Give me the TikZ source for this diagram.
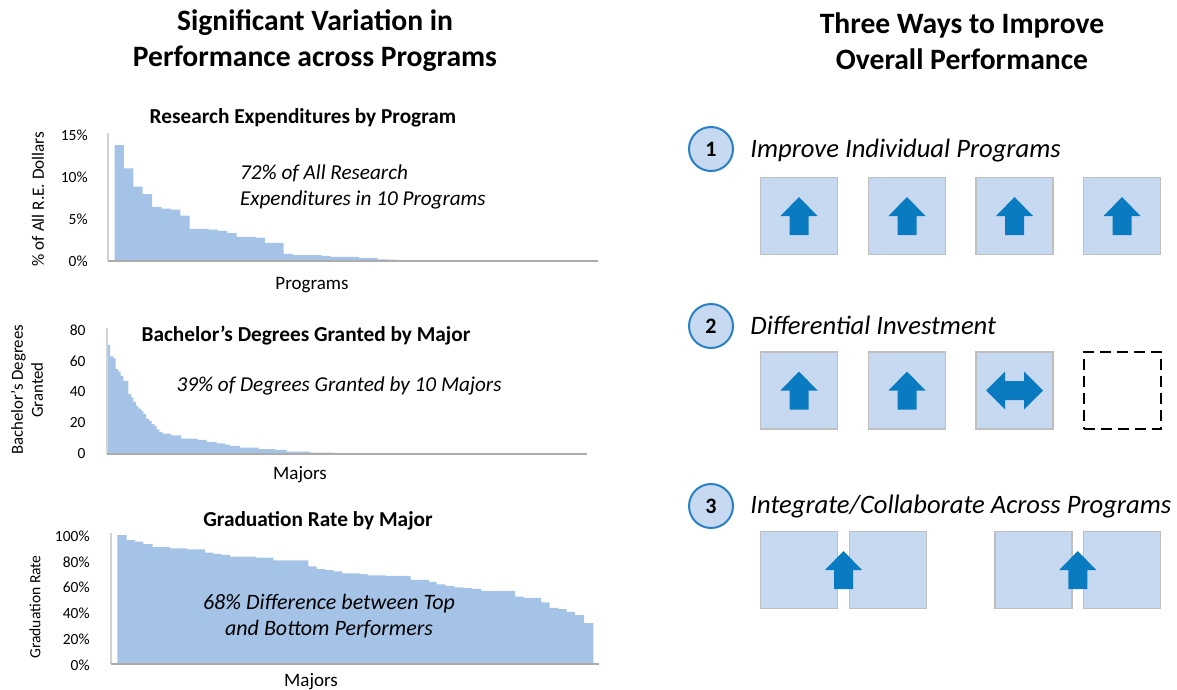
\documentclass[tikz,border=0pt]{standalone}
\usepackage{fontspec}
\setmainfont{Carlito}
\usetikzlibrary{positioning}

\definecolor{barre}{HTML}{A5C3E6}
\definecolor{fondboite}{HTML}{C6D9F0}
\definecolor{bordboite}{HTML}{BFBFBF}
\definecolor{fleche}{HTML}{0B7BC1}
\definecolor{cercle}{HTML}{2A80C4}

\tikzset{titre/.style = {font=\fontsize{14.8}{18}\selectfont\bfseries, align=center},
         stitre/.style = {font=\fontsize{10.65}{12}\selectfont\bfseries},
         comm/.style = {font=\fontsize{10.6}{13}\selectfont\itshape},
         grad/.style = {font=\fontsize{7.75}{9}\selectfont, anchor=east, inner sep=0pt},
         axe/.style = {font=\fontsize{9.5}{11}\selectfont},
         axex/.style = {draw=gray!65, line width=1.2pt},
         axey/.style = {draw=gray!35, line width=1pt},
         boite/.style = {draw=bordboite, fill=fondboite, line width=0.9pt,
                         minimum size=38.5pt, inner sep=0pt},
         vide/.style = {draw=black, line width=1pt, dash pattern=on 5.5pt off 3pt,
                        minimum size=38.5pt, inner sep=0pt},
         num/.style = {circle, draw=cercle, fill=fondboite, line width=1pt,
                       minimum size=22pt, inner sep=0pt,
                       font=\fontsize{11}{13}\selectfont\bfseries},
         voie/.style = {font=\fontsize{13.3}{15}\selectfont\itshape, anchor=base west, inner sep=0pt},
         haut/.pic = {\fill[fleche] (0,-19) -- (18.5,0) -- (9.5,0) -- (9.5,19)
                      -- (-9.5,19) -- (-9.5,0) -- (-18.5,0) -- cycle;},
         double/.pic = {\fill[fleche] (-28.5,0) -- (-9.5,-19) -- (-9.5,-9.5) -- (9.5,-9.5)
                        -- (9.5,-19) -- (28.5,0) -- (9.5,19) -- (9.5,9.5) -- (-9.5,9.5)
                        -- (-9.5,19) -- cycle;}
        }

\begin{document}
\begin{tikzpicture}[x=0.5pt, y=-0.5pt]
\useasboundingbox (0,0) rectangle (1177,690);

% titres
\node[titre] (tg) at (315,41) {Significant Variation in\\Performance across Programs};
\node[titre] (td) at (962,41) {Three Ways to Improve\\Overall Performance};

% graphique 1
\node[stitre] (s1) at (303,118) {Research Expenditures by Program};
\begin{scope}[shift={(0,261)}, yscale=-8.45]
\fill[barre] (114.5,0) \foreach \h [count=\i from 0] in {13.7,10.95,8.8,7.9,6.4,6.2,6.07,5.36,3.8,3.8,
   3.7,3.57,3.3,2.86,2.86,2.78,2.14,2.14,0.83,0.71,0.71,0.71,0.6,0.48,0.48,0.48,0.36,0.36,0.2,0.15,0.1}
   { -- (114.5+9.4*\i,\h) -- (123.9+9.4*\i,\h) } -- (405.9,0) -- cycle;
\end{scope}
\draw[axey] (108,133) -- (108,261);
\draw[axex] (108,261) -- (598,261);
\node[grad] (g15) at (88,135) {15\%};
\node[grad] (g10) at (88,177) {10\%};
\node[grad] (g5) at (88,219) {5\%};
\node[grad] (g0) at (88,261) {0\%};
\node[rotate=90, font=\fontsize{8.6}{10}\selectfont] (y1) at (38,199) {\% of All R.E. Dollars};
\node[axe] (x1) at (312,285) {Programs};
\node[comm, align=left, anchor=west] (c1) at (233,187) {72\% of All Research\\Expenditures in 10 Programs};

% graphique 2
\begin{scope}[shift={(0,454)}, yscale=-1.545]
\fill[barre] (107.3,0) -- plot[const plot] coordinates {(107.3,70.6) (110,63.2) (113.3,61.9)
   (115.7,55) (118.3,53.4) (120.7,50.6) (123.3,47.4) (128.3,38.8) (131,36.6) (133.3,33.8)
   (136,31.2) (138.3,29.4) (141,27.9) (143.3,25.8) (146,22.9) (149,21.4) (151.7,19.3)
   (154.3,18.2) (156.7,16) (159.3,14.3) (162.7,13.2) (171,12.1) (181,9.9) (197.7,9.1)
   (206.7,7.8) (216.7,6.9) (225,6.0) (230,5.2) (240,4.1) (258.3,3.2) (275,2.6) (286.7,1.5)
   (310,0.9) (333.3,0.3) (373.3,0.3)} -- (373.3,0) -- cycle;
\end{scope}
\draw[axey] (107,328) -- (107,454);
\draw[axex] (107,454) -- (587,454);
\node[stitre] (s2) at (306,336) {Bachelor’s Degrees Granted by Major};
\node[grad] (h80) at (86,330) {80};
\node[grad] (h60) at (86,361) {60};
\node[grad] (h40) at (86,392) {40};
\node[grad] (h20) at (86,423) {20};
\node[grad] (h0) at (86,454) {0};
\node[rotate=90, align=center, font=\fontsize{8.4}{10}\selectfont] (y2) at (27,390) {Bachelor’s Degrees\\Granted};
\node[axe] (x2) at (300,475) {Majors};
\node[comm] (c2) at (339,386) {39\% of Degrees Granted by 10 Majors};

% graphique 3
\node[stitre] (s3) at (318,521) {Graduation Rate by Major};
\begin{scope}[shift={(0,664)}, yscale=-1.29]
\fill[barre] (117.3,0) -- plot[const plot] coordinates {(117.3,100) (126.7,96.1) (135,94.8)
   (143.3,93) (152.7,90.6) (170,89.6) (187.3,88.8) (205,86.4) (213.3,85.4) (221.7,84.6)
   (230,83.3) (256,82.5) (273.3,80.4) (308.3,75.7) (316.7,73.6) (325,72.8) (333.3,71.8)
   (342,70.3) (360,69.6) (367.7,68.8) (385.7,68.3) (410.7,65.2) (429,63.6) (436.7,61.8)
   (445.7,60.5) (454.3,59.4) (463.3,58.9) (471.7,58.2) (481,56.6) (515,52.2) (524,51.2)
   (541,47.8) (549.7,43.6) (558.3,42.6) (566.7,40.5) (575,37.9) (584,31.7) (593.3,31.7)}
   -- (593.3,0) -- cycle;
\end{scope}
\draw[axey] (111,533) -- (111,664);
\draw[axex] (111,664) -- (599,664);
\node[grad] (p100) at (90,536) {100\%};
\node[grad] (p80) at (90,562) {80\%};
\node[grad] (p60) at (90,587) {60\%};
\node[grad] (p40) at (90,613) {40\%};
\node[grad] (p20) at (90,639) {20\%};
\node[grad] (p0) at (90,665) {0\%};
\node[rotate=90, font=\fontsize{7.8}{9}\selectfont] (y3) at (35,607) {Graduation Rate};
\node[axe] (x3) at (311,682) {Majors};
\node[comm, align=center, font=\fontsize{11}{13}\selectfont\itshape] (c3) at (329,616) {68\% Difference between Top\\and Bottom Performers};

% voie 1
\node[num] (n1) at (711,149) {1};
\node[voie] (v1) at (750,157) {Improve Individual Programs};
\node[boite] (b11) at (799,216) {};
\node[boite] (b12) at (907,216) {};
\node[boite] (b13) at (1014.5,216) {};
\node[boite] (b14) at (1122,216) {};
\foreach \b in {b11,b12,b13,b14} \pic at (\b) {haut};

% voie 2
\node[num] (n2) at (711,326) {2};
\node[voie] (v2) at (750,334) {Differential Investment};
\node[boite] (b21) at (799,390.5) {};
\node[boite] (b22) at (907,390.5) {};
\node[boite] (b23) at (1014.5,390.5) {};
\node[vide] (b24) at (1122,390.5) {};
\pic at (b21) {haut};
\pic at (b22) {haut};
\pic at (b23) {double};

% voie 3
\node[num] (n3) at (711,506) {3};
\node[voie] (v3) at (750,513) {Integrate/Collaborate Across Programs};
\node[boite] (b31) at (799,570) {};
\node[boite] (b32) at (888,570) {};
\node[boite] (b33) at (1033.5,570) {};
\node[boite] (b34) at (1122,570) {};
\pic at (843.5,570) {haut};
\pic at (1077.75,570) {haut};
\end{tikzpicture}
\end{document}
